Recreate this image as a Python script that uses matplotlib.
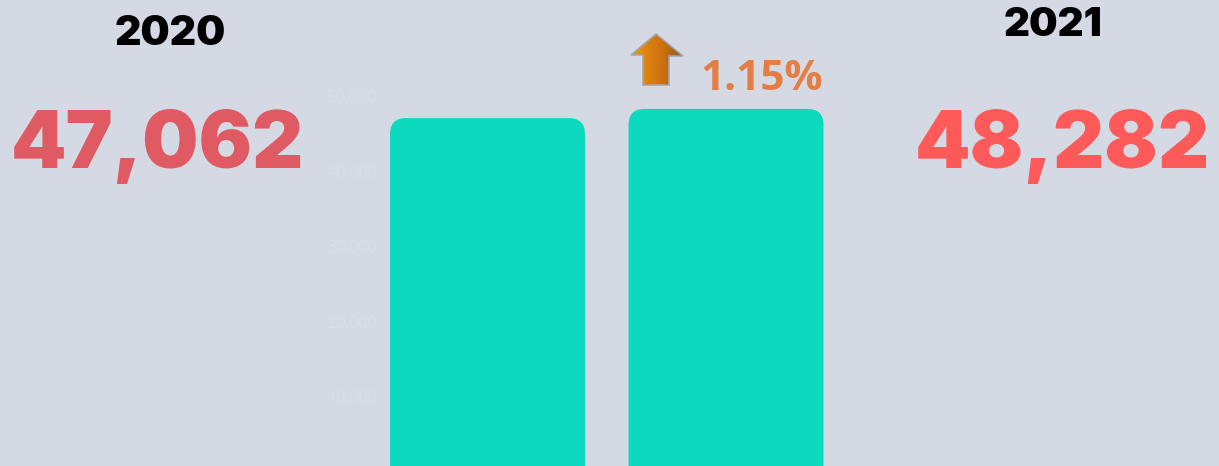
import numpy as np
import matplotlib
matplotlib.use("Agg")
import matplotlib.pyplot as plt
from matplotlib.colors import LinearSegmentedColormap
from matplotlib.patches import FancyBboxPatch, Polygon

years = ["2020", "2021"]
values = [47062, 48282]
value_labels = ["47,062", "48,282"]
change_label = "1.15%"
tick_values = [10000, 20000, 30000, 40000, 50000]
tick_labels = ["10,000", "20,000", "30,000", "40,000", "50,000"]

BG = "#d5d9e4"
BAR = "#0dd9be"
W, H = 1219, 466


def px(x, y):
    # pixel position (origin top left) to figure fraction
    return x / W, 1 - y / H


def main():
    fig = plt.figure(figsize=(W / 100, H / 100), dpi=100, facecolor=BG)
    ax = fig.add_axes([0, 0, 1, 1], facecolor=BG)

    # 238.5 px between bars, 75.2 px per 10,000
    ax.set_xlim(-487.5 / 238.5, (W - 487.5) / 238.5)
    ax.set_ylim((472 - H) / 75.2 * 10000, 472 / 75.2 * 10000)

    width = 195 / 238.5
    radius = 16 / 238.5
    aspect = (10000 / 75.2) / (1 / 238.5)
    for i, v in enumerate(values):
        ax.add_patch(FancyBboxPatch((i - width / 2, -20000), width, v + 20000,
                                    boxstyle="round,pad=0,rounding_size=%f" % radius,
                                    mutation_aspect=aspect, fc=BAR, ec="none"))

    for s in ax.spines.values():
        s.set_visible(False)
    ax.spines["left"].set_position(("data", (377 - 487.5) / 238.5))
    ax.set_xticks([])
    ax.set_yticks(tick_values)
    ax.set_yticklabels(tick_labels, family="Open Sans", fontweight="light", fontsize=11.8, color="#dce0e8")
    ax.tick_params(axis="y", length=0, pad=0)

    # headings and big numbers
    fig.text(*px(170, 34), years[0], family="Inter", fontweight="black", fontsize=29.5, color="black",
             ha="center", va="center")
    fig.text(*px(1053, 26), years[1], family="Inter", fontweight="black", fontsize=29, color="black",
             ha="center", va="center")
    fig.text(*px(157, 146), value_labels[0], family="Inter", fontweight="black", fontsize=57, color="#e05a63",
             ha="center", va="center")
    fig.text(*px(1062, 146), value_labels[1], family="Inter", fontweight="black", fontsize=57, color="#ff5a5a",
             ha="center", va="center")
    fig.text(*px(762, 79), change_label, family="Open Sans", fontweight="bold", fontsize=30.5, color="#e37f45",
             ha="center", va="center")

    # up arrow, drawn with a gradient
    arrow_ax = fig.add_axes([630 / W, 1 - 88 / H, 54 / W, 55 / H])
    arrow_ax.set_axis_off()
    arrow_ax.set_xlim(630, 684)
    arrow_ax.set_ylim(88, 33)
    outline = [(656, 34), (683, 56), (669, 56), (669, 85), (643, 85), (643, 55), (631, 55)]
    grad = np.linspace(0, 1, 64).reshape(1, -1)
    img = arrow_ax.imshow(grad, extent=(631, 683, 88, 33), aspect="auto", cmap=LinearSegmentedColormap.from_list(
        "arrow", ["#e0a010", "#dd8010", "#c86c10", "#8a5a20"]))
    clip = Polygon(outline, closed=True, transform=arrow_ax.transData, fc="none", ec="none")
    arrow_ax.add_patch(clip)
    img.set_clip_path(clip)
    arrow_ax.add_patch(Polygon(outline, closed=True, fc="none", ec="#a0a6b0", lw=1.1))

    fig.savefig("out.png", dpi=100, facecolor=BG)


if __name__ == "__main__":
    main()
